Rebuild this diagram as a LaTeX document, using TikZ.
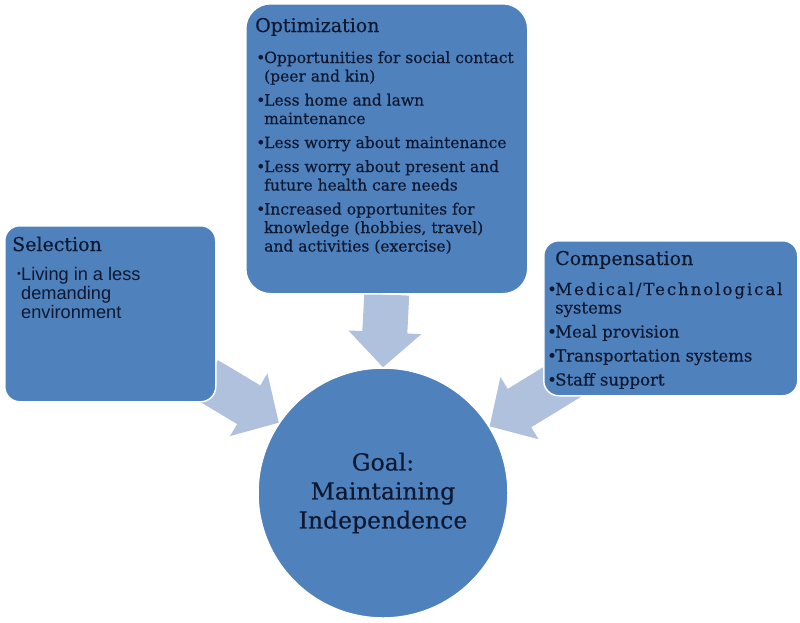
\documentclass[tikz,border=0pt]{standalone}
\usepackage{fontspec}
\setmainfont{DejaVu Serif}[FakeBold=0.3]
\newfontfamily\selsans{Liberation Sans}
\usetikzlibrary{calc,backgrounds}
\definecolor{boxblue}{HTML}{4F81BD}
\definecolor{arrowblue}{HTML}{B0C1DD}
\definecolor{inkblue}{HTML}{0E1830}
\newcommand\bul{\makebox[8pt][l]{•}}
\newcommand\blockarrow[2]{%
  \coordinate (ba-h) at ($(#2)!35pt!(#1)$);
  \fill[arrowfill] ($(#1)!22.5pt!90:(#2)$) -- ($(ba-h)!22.5pt!90:(#2)$)
    -- ($(ba-h)!36.5pt!90:(#2)$) -- (#2) -- ($(ba-h)!36.5pt!-90:(#2)$)
    -- ($(ba-h)!22.5pt!-90:(#2)$) -- ($(#1)!22.5pt!-90:(#2)$) -- cycle;
}
\tikzset{
  box/.style={rectangle, rounded corners=#1, fill=boxblue, draw=white,
    line width=1.5pt, anchor=north west, inner sep=0pt},
  box/.default=15pt,
  titletext/.style={anchor=base west, inner sep=0pt, text=inkblue,
    font=\fontsize{19}{22}\selectfont},
  bodytext/.style={anchor=base west, inner sep=0pt, text=inkblue,
    font=\fontsize{15.5}{18.5}\selectfont},
  goalnode/.style={circle, fill=boxblue, draw=white, line width=1.5pt,
    minimum size=250pt, inner sep=0pt, text=inkblue, align=center,
    font=\fontsize{23.5}{29}\selectfont},
  arrowfill/.style={fill=arrowblue},
}
\begin{document}
\begin{tikzpicture}[x=1pt,y=-1pt]
\useasboundingbox (0,0) rectangle (800,622);

% boxes
\node[box, minimum width=211pt, minimum height=176pt] (sel) at (4,225) {};
\node[box=25pt, minimum width=282pt, minimum height=290pt] (opt) at (245,3) {};
\node[box, minimum width=254pt, minimum height=155pt] (comp) at (543,240) {};
\node[goalnode] (goal) at (383,493) {Goal:\\Maintaining\\Independence};

% Selection
\node[titletext] (seltitle) at (12,251) {Selection};
\node[bodytext, font=\selsans\fontsize{18.2}{19}\selectfont] (sellist) at (17,280)
  {\begin{tabular}[t]{@{}l@{}l@{}}
   \raisebox{3pt}{\fontsize{11}{11}\selectfont\makebox[4pt][l]{•}} & Living in a less\\
   & demanding\\
   & environment
   \end{tabular}};

% Optimization
\node[titletext] (opttitle) at (255,32) {Optimization};
\node[bodytext] (optlist) at (256,63)
  {\begin{tabular}[t]{@{}l@{}l@{}}
   \bul & Opportunities for social contact\\
        & (peer and kin)\\[5.5pt]
   \bul & Less home and lawn\\
        & maintenance\\[5.5pt]
   \bul & Less worry about maintenance\\[5.5pt]
   \bul & Less worry about present and\\
        & future health care needs\\[5.5pt]
   \bul & Increased opportunites for\\
        & knowledge (hobbies, travel)\\
        & and activities (exercise)
   \end{tabular}};

% Compensation
\node[titletext] (comptitle) at (555,265) {Compensation};
\node[bodytext, font=\fontsize{16.5}{18.5}\selectfont] (complist) at (547,295)
  {\begin{tabular}[t]{@{}l@{}l@{}}
   \bul & {\addfontfeature{LetterSpace=12}Medical/Technological}\\
        & systems\\[5.5pt]
   \bul & Meal provision\\[5.5pt]
   \bul & Transportation systems\\[5.5pt]
   \bul & Staff support
   \end{tabular}};

% arrows
\coordinate (selout) at (206.5,379.5);
\coordinate (compout) at (580,371);
\begin{pgfonlayer}{background}
  \blockarrow{opt.south}{goal.north}
  \blockarrow{selout}{goal.146}
  \blockarrow{compout}{goal.32}
\end{pgfonlayer}
\end{tikzpicture}
\end{document}
